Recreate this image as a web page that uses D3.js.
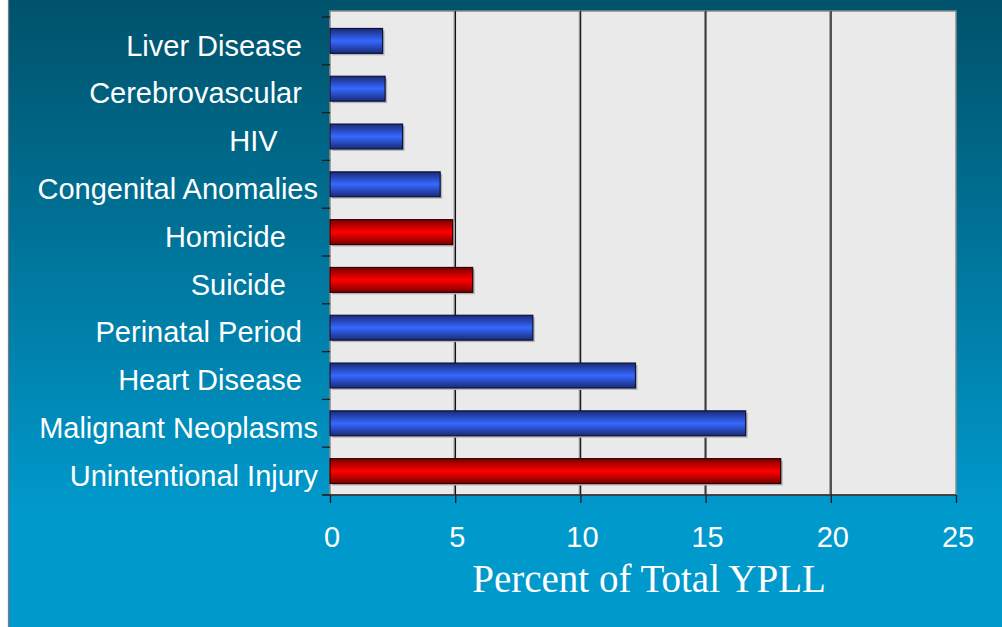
<!DOCTYPE html>
<html>
<head>
<meta charset="utf-8">
<script src="https://cdn.jsdelivr.net/npm/d3@7"></script>
<style>
  html, body { margin: 0; padding: 0; background: #ffffff; }
  svg { display: block; }
</style>
</head>
<body>
<svg id="chart" width="1002" height="627"></svg>
<script>
// Leading causes of Years of Potential Life Lost, top to bottom
const causes = [
  "Liver Disease", "Cerebrovascular", "HIV", "Congenital Anomalies",
  "Homicide", "Suicide", "Perinatal Period", "Heart Disease",
  "Malignant Neoplasms", "Unintentional Injury"
];
// Share of total YPLL (%)
const percentYPLL = [2.1, 2.2, 2.9, 4.4, 4.9, 5.7, 8.1, 12.2, 16.6, 18.0];
// Injury-related causes are highlighted in red
const injuryRelated = [false, false, false, false, true, true, false, false, false, true];
// Trailing spacing used when the category names are printed
const labelPad = [2, 2, 5, 0, 4, 4, 2, 2, 0, 0];
const xTicks = [0, 5, 10, 15, 20, 25];
const xTitle = "Percent of Total YPLL";

const data = causes.map((c, i) => ({
  cause: c, value: percentYPLL[i], injury: injuryRelated[i], pad: labelPad[i]
}));

const W = 1002, H = 627;
const plot = { left: 330, right: 956, top: 11, bottom: 495, bandTop: 17 };

const svg = d3.select("#chart");
const defs = svg.append("defs");

// Page background: deep teal fading to bright blue
const bg = defs.append("linearGradient").attr("id", "bg")
  .attr("x1", 0).attr("y1", 0).attr("x2", 0).attr("y2", 1);
bg.append("stop").attr("offset", 0).attr("stop-color", "#00526b");
bg.append("stop").attr("offset", 0.82).attr("stop-color", "#0099cc");
bg.append("stop").attr("offset", 1).attr("stop-color", "#0099cc");

function barGradient(id, edge, mid) {
  const g = defs.append("linearGradient").attr("id", id)
    .attr("x1", 0).attr("y1", 0).attr("x2", 0).attr("y2", 1);
  g.append("stop").attr("offset", 0).attr("stop-color", edge);
  g.append("stop").attr("offset", 0.5).attr("stop-color", mid);
  g.append("stop").attr("offset", 1).attr("stop-color", edge);
}
barGradient("blueBar", "#1a2a78", "#3668ff");
barGradient("redBar", "#7a0000", "#ff0000");

svg.append("rect").attr("x", 0).attr("y", 0).attr("width", W).attr("height", H)
  .attr("fill", "url(#bg)");
// White margin with a thin grey rule at the left edge
svg.append("rect").attr("x", 0).attr("y", 0).attr("width", 8).attr("height", H)
  .attr("fill", "#ffffff");
svg.append("line").attr("x1", 8.5).attr("x2", 8.5).attr("y1", 0).attr("y2", H)
  .attr("stroke", "#7a7a7a").attr("stroke-width", 1.2);

const x = d3.scaleLinear().domain([0, 25]).range([plot.left, plot.right]);
const y = d3.scaleBand().domain(causes).range([plot.bandTop, plot.bottom])
  .paddingInner(0.48).paddingOuter(0.24);

// Plot area
svg.append("rect")
  .attr("x", plot.left).attr("y", plot.top)
  .attr("width", plot.right - plot.left).attr("height", plot.bottom - plot.top)
  .attr("fill", "#eaeaea")
  .attr("stroke", "#8a8a8a").attr("stroke-width", 1.5);

// Vertical gridlines with a soft grey edge
const grid = svg.append("g");
xTicks.filter(t => t > 0 && t < 25).forEach(t => {
  grid.append("line").attr("x1", x(t) - 0.5).attr("x2", x(t) - 0.5)
    .attr("y1", plot.top).attr("y2", plot.bottom)
    .attr("stroke", "#8c8c8c").attr("stroke-width", 2.2);
  grid.append("line").attr("x1", x(t) + 0.3).attr("x2", x(t) + 0.3)
    .attr("y1", plot.top).attr("y2", plot.bottom)
    .attr("stroke", "#111111").attr("stroke-width", 1.1);
});

// Bars with drop shadow
const bars = svg.append("g");
bars.selectAll("rect.shadow").data(data).join("rect")
  .attr("class", "shadow")
  .attr("x", x(0) + 2).attr("y", d => y(d.cause) + 2)
  .attr("width", d => x(d.value) - x(0)).attr("height", y.bandwidth())
  .attr("fill", "#b4b4b4");
bars.selectAll("rect.bar").data(data).join("rect")
  .attr("class", "bar")
  .attr("x", x(0)).attr("y", d => y(d.cause))
  .attr("width", d => x(d.value) - x(0)).attr("height", y.bandwidth())
  .attr("fill", d => d.injury ? "url(#redBar)" : "url(#blueBar)")
  .attr("stroke", d => d.injury ? "#2a0000" : "#0c1238").attr("stroke-width", 1.2);

// Category axis: ticks sit on band boundaries
const catAxis = svg.append("g");
const boundaries = causes.map(c => y(c) - y.step() * y.paddingInner() / 2)
  .concat([plot.bottom]);
catAxis.selectAll("line").data(boundaries).join("line")
  .attr("x1", plot.left - 8).attr("x2", plot.left)
  .attr("y1", d => d).attr("y2", d => d)
  .attr("stroke", "#1a1a1a").attr("stroke-width", 1.3);
catAxis.selectAll("text").data(data).join("text")
  .attr("x", plot.left - 12)
  .attr("y", d => y(d.cause) + y.bandwidth() / 2 + 14.7)
  .attr("text-anchor", "end")
  .attr("fill", "#ffffff")
  .attr("font-family", "'Liberation Sans', Arial, sans-serif")
  .attr("font-size", 29)
  .text(d => d.cause + "\u00A0".repeat(d.pad));

// Value axis
const xAxis = svg.append("g").attr("transform", `translate(0,${plot.bottom})`)
  .call(d3.axisBottom(x).tickValues(xTicks).tickSize(8).tickPadding(14).tickFormat(d3.format("d")));
xAxis.select(".domain").remove();
xAxis.selectAll(".tick line").attr("stroke", "#1a1a1a").attr("stroke-width", 1.3);
xAxis.selectAll(".tick text")
  .attr("fill", "#ffffff")
  .attr("font-family", "'Liberation Sans', Arial, sans-serif")
  .attr("font-size", 29)
  .attr("dx", 1.5)
  .attr("dy", 0)
  .attr("y", 51.5);
svg.append("line")
  .attr("x1", plot.left - 8).attr("x2", plot.right)
  .attr("y1", plot.bottom).attr("y2", plot.bottom)
  .attr("stroke", "#2a2a2a").attr("stroke-width", 1.4);

svg.append("text")
  .attr("x", x(12.5) + 6).attr("y", 592)
  .attr("text-anchor", "middle")
  .attr("fill", "#ffffff")
  .attr("font-family", "'Liberation Serif', 'Times New Roman', serif")
  .attr("font-size", 39)
  .text(xTitle);
</script>
</body>
</html>
